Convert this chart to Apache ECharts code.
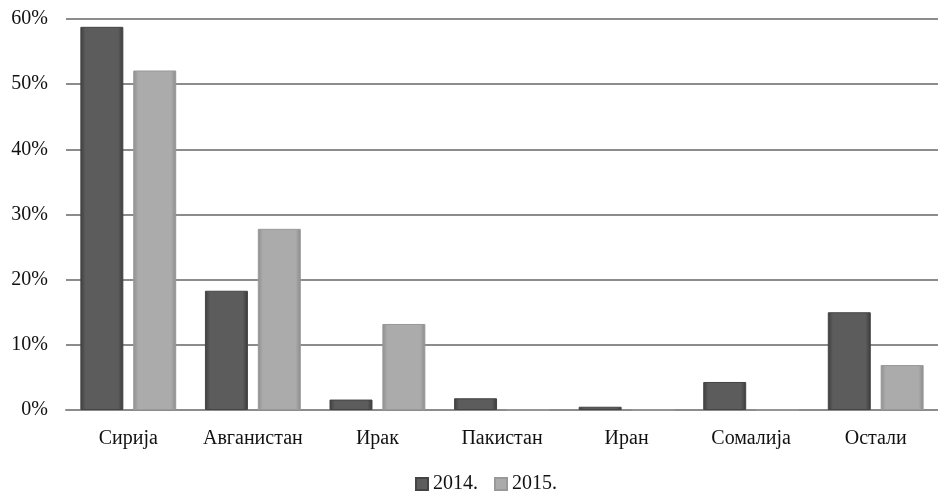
<!DOCTYPE html>
<html><head><meta charset="utf-8">
<script src="https://cdn.jsdelivr.net/npm/echarts@6/dist/echarts.min.js"></script>
<style>html,body{margin:0;padding:0;background:#fff}#c{width:938px;height:493px}</style>
</head><body><div id="c"></div>
<script>
const categories = ['Сирија','Авганистан','Ирак','Пакистан','Иран','Сомалија','Остали'];
const seriesNames = ['2014.','2015.'];
const values2014 = [58.8, 18.3, 1.6, 1.8, 0.5, 4.3, 15.0];
const values2015 = [52.1, 27.8, 13.2, 0, 0, 0, 6.9];
const yTicks = [0, 10, 20, 30, 40, 50, 60];

function grad(c1, c2, c3) {
  return new echarts.graphic.LinearGradient(0, 0, 1, 0, [
    {offset: 0, color: c1}, {offset: 0.12, color: c2}, {offset: 0.88, color: c2}, {offset: 1, color: c3}
  ]);
}
const chart = echarts.init(document.getElementById('c'));
const font = 'Liberation Serif';
chart.setOption({
  animation: false,
  textStyle: {fontFamily: font},
  grid: {left: 66, right: 0, top: 19, bottom: 83},
  legend: {
    top: 474, left: 415, padding: 0, icon: 'rect', itemWidth: 12, itemHeight: 12, itemGap: 16,
    textStyle: {fontFamily: font, fontSize: 20, color: '#111'},
    data: seriesNames
  },
  xAxis: {
    type: 'category', data: categories,
    axisLine: {lineStyle: {color: '#8c8c8c', width: 2}},
    axisTick: {show: false},
    axisLabel: {fontFamily: font, fontSize: 20, color: '#111', margin: 19, interval: 0}
  },
  yAxis: {
    type: 'value', min: yTicks[0], max: yTicks[yTicks.length - 1], interval: 10,
    axisLine: {show: false}, axisTick: {show: false},
    splitLine: {lineStyle: {color: '#8c8c8c', width: 2}},
    axisLabel: {fontFamily: font, fontSize: 20, color: '#111', margin: 18, formatter: v => v + '%'}
  },
  series: [
    {name: seriesNames[0], type: 'bar', data: values2014, barWidth: '34.5%', barGap: '23%',
     itemStyle: {color: grad('#3e3e3e', '#5c5c5c', '#3a3a3a'), borderColor: '#444', borderWidth: 1}},
    {name: seriesNames[1], type: 'bar', data: values2015, barWidth: '34.5%',
     itemStyle: {color: grad('#8e8e8e', '#ababab', '#8a8a8a'), borderColor: '#999', borderWidth: 1}}
  ]
});
</script></body></html>
